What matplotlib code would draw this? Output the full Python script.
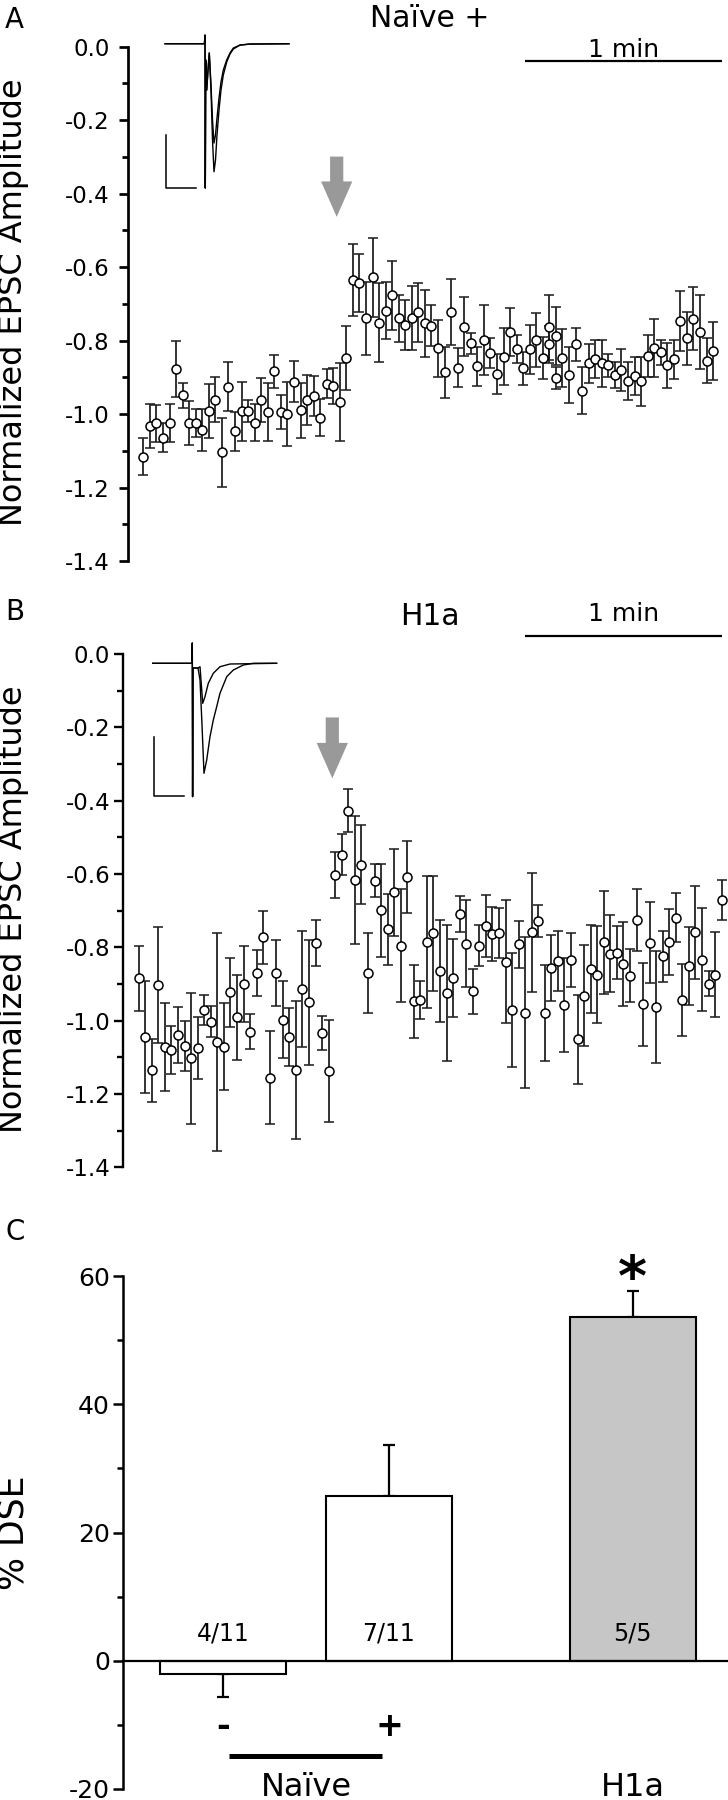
import numpy as np
import matplotlib
matplotlib.use("Agg")
import matplotlib.pyplot as plt

plt.rcParams['font.family'] = ['DejaVu Sans']
plt.rcParams['axes.unicode_minus'] = False

# ---------------- data ----------------
sample_interval_s = 2.0

# Panel A (Naive +): sample index (two samples appear twice), mean, SEM
a_sample = np.r_[np.arange(62), 62, 62, 63, 63, np.arange(64, 88)]
a_val = [-1.116, -1.032, -1.025, -1.064, -1.024, -0.878, -0.949, -1.024, -1.024, -1.043,
         -0.991, -0.961, -1.103, -0.925, -1.047, -0.992, -0.992, -1.023, -0.962, -0.994,
         -0.883, -0.994, -1.000, -0.912, -0.989, -0.961, -0.950, -1.009, -0.917, -0.923,
         -0.967, -0.846, -0.635, -0.644, -0.739, -0.628, -0.751, -0.718, -0.677, -0.739,
         -0.757, -0.737, -0.723, -0.753, -0.759, -0.821, -0.886, -0.723, -0.873, -0.762,
         -0.807, -0.869, -0.798, -0.834, -0.891, -0.843, -0.777, -0.823, -0.875, -0.823,
         -0.798, -0.848, -0.764, -0.810, -0.786, -0.902, -0.848, -0.893, -0.810, -0.936,
         -0.862, -0.850, -0.862, -0.867, -0.893, -0.880, -0.909, -0.896, -0.911, -0.842,
         -0.820, -0.832, -0.867, -0.850, -0.746, -0.794, -0.740, -0.776, -0.854, -0.828]
a_err = [0.050, 0.060, 0.050, 0.039, 0.052, 0.076, 0.033, 0.061, 0.039, 0.057,
         0.073, 0.061, 0.094, 0.067, 0.053, 0.080, 0.030, 0.050, 0.060, 0.080,
         0.045, 0.045, 0.087, 0.056, 0.075, 0.068, 0.055, 0.050, 0.040, 0.050,
         0.105, 0.087, 0.097, 0.079, 0.100, 0.107, 0.107, 0.078, 0.094, 0.064,
         0.068, 0.087, 0.080, 0.090, 0.056, 0.078, 0.070, 0.090, 0.054, 0.080,
         0.028, 0.053, 0.094, 0.040, 0.054, 0.077, 0.065, 0.039, 0.045, 0.067,
         0.074, 0.057, 0.088, 0.050, 0.079, 0.030, 0.079, 0.077, 0.045, 0.064,
         0.054, 0.052, 0.064, 0.031, 0.035, 0.058, 0.052, 0.052, 0.066, 0.057,
         0.079, 0.034, 0.062, 0.053, 0.081, 0.073, 0.085, 0.100, 0.061, 0.078]

# Panel B (H1a)
b_sample = np.arange(90)
b_val = [-0.884, -1.045, -1.135, -0.903, -1.071, -1.080, -1.038, -1.070, -1.103, -1.074,
         -0.972, -1.003, -1.057, -1.071, -0.923, -0.991, -0.900, -1.030, -0.869, -0.773,
         -1.155, -0.869, -0.997, -1.044, -1.135, -0.914, -0.950, -0.788, -1.033, -1.136,
         -0.603, -0.548, -0.427, -0.617, -0.575, -0.870, -0.619, -0.699, -0.751, -0.650,
         -0.795, -0.608, -0.947, -0.943, -0.786, -0.762, -0.864, -0.925, -0.883, -0.710,
         -0.790, -0.920, -0.795, -0.742, -0.763, -0.762, -0.839, -0.970, -0.792, -0.978,
         -0.759, -0.728, -0.979, -0.855, -0.838, -0.958, -0.834, -1.051, -0.932, -0.858,
         -0.874, -0.786, -0.817, -0.814, -0.846, -0.877, -0.726, -0.955, -0.787, -0.963,
         -0.824, -0.785, -0.719, -0.944, -0.851, -0.759, -0.834, -0.899, -0.874, -0.670]
b_err = [0.089, 0.153, 0.086, 0.159, 0.120, 0.066, 0.076, 0.068, 0.178, 0.084,
         0.041, 0.042, 0.297, 0.119, 0.094, 0.117, 0.104, 0.047, 0.063, 0.072,
         0.128, 0.090, 0.104, 0.080, 0.188, 0.159, 0.170, 0.063, 0.046, 0.139,
         0.062, 0.056, 0.058, 0.174, 0.108, 0.108, 0.045, 0.126, 0.097, 0.118,
         0.155, 0.098, 0.099, 0.052, 0.180, 0.157, 0.139, 0.185, 0.106, 0.049,
         0.119, 0.061, 0.055, 0.085, 0.074, 0.068, 0.168, 0.156, 0.065, 0.206,
         0.162, 0.044, 0.130, 0.090, 0.082, 0.128, 0.074, 0.121, 0.138, 0.120,
         0.132, 0.140, 0.106, 0.073, 0.115, 0.073, 0.084, 0.113, 0.110, 0.153,
         0.070, 0.089, 0.066, 0.098, 0.106, 0.126, 0.140, 0.034, 0.117, 0.054]

trace_y_ticks = [0.0, -0.2, -0.4, -0.6, -0.8, -1.0, -1.2, -1.4]
trace_y_ticklabels = ['0.0', '-0.2', '-0.4', '-0.6', '-0.8', '-1.0', '-1.2', '-1.4']

# Example EPSC traces (ms, pA-like units)
ins_a_t = [-13.3, -0.2, 0, 0.1, 0.27, 0.57, 1.0, 1.43, 2.0, 2.5, 3.0, 3.5, 4.0, 4.67,
           5.33, 6.1, 7.23, 8.33, 9.43, 11.67, 15, 28]
ins_a_pre = [0, 0, 16.5, -273.8, -30.9, -87.9, -49.9, -17.6, -87.9, -182.7, -242.9, -220.7,
             -173.2, -125.8, -87.9, -59.4, -34.7, -19.5, -10.1, -2.5, -0.6, 0]
ins_a_post = [0, 0, 16.5, -273.8, -30.9, -87.9, -49.9, -17.6, -78.4, -144.8, -188.4, -173.2,
              -141.0, -103.0, -72.7, -49.9, -30.9, -17.6, -8.2, -2.5, -0.6, 0]
ins_b_t_pre = [-13.2, -0.1, 0, 0.1, 0.23, 1.23, 1.9, 2.57, 3.23, 3.9, 4.8, 5.9, 7.0, 8.13,
               9.23, 11.47, 13.67, 17, 20.3, 28.1]
ins_b_pre = [0, 0, 34.4, -226, -8, -8, -8, -28, -104, -186.4, -163.9, -124.4, -96.1, -73.6,
             -50.8, -22.7, -11.4, -2.9, 0, 0]
ins_b_t_post = [-13.2, -0.1, 0, 0.1, 0.23, 1.23, 1.9, 2.57, 3.47, 4.23, 5.33, 7.0, 9.23,
                12.57, 28.1]
ins_b_post = [0, 0, 34.4, -226, -8, -8, -8, -5.8, -67.8, -56.6, -33.9, -16.9, -5.8, -1.2, 0]

# Panel C
groups = ['Naïve -', 'Naïve +', 'H1a']
dse_mean = [-2.0, 25.7, 53.6]
dse_sem = [3.7, 7.9, 4.1]
dse_counts = ['4/11', '7/11', '5/5']
bar_colors = ['white', 'white', '#c6c6c6']
c_ticks = [-20, 0, 20, 40, 60]
c_ticklabels = ['-20', '0', '20', '40', '60']

# ---------------- layout helpers ----------------
W, H = 728, 1800
fig = plt.figure(figsize=(W / 100, H / 100), dpi=100)


def px_rect(x0, y0, x1, y1):
    return [x0 / W, 1 - y1 / H, (x1 - x0) / W, (y1 - y0) / H]


def ftext(x, y, s, **kw):
    return fig.text(x / W, 1 - y / H, s, **kw)


px_per_s = 6.55 / sample_interval_s


def style_trace_axis(ax, pad, spine_lw):
    for s in ['top', 'right', 'bottom']:
        ax.spines[s].set_visible(False)
    ax.spines['left'].set_linewidth(spine_lw)
    ax.set_xticks([])
    ax.set_ylim(-1.4, 0.0)
    ax.set_yticks(trace_y_ticks)
    ax.set_yticklabels(trace_y_ticklabels)
    ax.set_yticks(np.arange(-1.3, 0, 0.2), minor=True)
    ax.tick_params(axis='y', which='major', length=6.8, width=spine_lw,
                   labelsize=16.5, pad=pad, direction='out')
    ax.tick_params(axis='y', which='minor', length=4.3, width=spine_lw, direction='out')
    ax.patch.set_alpha(0)


def draw_points(ax, t, v, e):
    ax.errorbar(t, v, yerr=e, fmt='o', ms=6.5, mfc='white', mec='black', mew=1.1,
                ecolor='#1a1a1a', elinewidth=1.25, capsize=3.9, capthick=1.25,
                clip_on=False, zorder=3)


def draw_arrow(ax, t, y_top, y_tip):
    ax.annotate('', xy=(t, y_tip), xytext=(t, y_top),
                arrowprops=dict(arrowstyle='simple,head_length=25.5,head_width=22.5,tail_width=9.5',
                                mutation_scale=1, color='#999999', shrinkA=0, shrinkB=0, lw=0),
                annotation_clip=False)


def draw_scalebar(ax, t0, y_line, y_text):
    ax.plot([t0, t0 + 60], [y_line, y_line], color='black', lw=1.6, clip_on=False,
            solid_capstyle='butt')
    ax.text(t0 + 30, y_text, '1 min', ha='center', va='baseline', fontsize=18)


# ---------------- Panel A ----------------
a_left, a_first = 127.7, 143.3
ax_a = fig.add_axes(px_rect(a_left, 46.7, 728, 561.2))
style_trace_axis(ax_a, pad=6.0, spine_lw=1.95)
ax_a.set_xlim(-(a_first - a_left) / px_per_s, (728 - a_first) / px_per_s)
draw_points(ax_a, a_sample * sample_interval_s, a_val, a_err)
draw_arrow(ax_a, (336.7 - a_first) / px_per_s, -0.299, -0.463)
draw_scalebar(ax_a, (525 - a_first) / px_per_s, -0.038, -0.029)
ftext(430, 26.7, 'Naïve +', ha='center', va='baseline', fontsize=21.5)
ftext(13.5, 302.4, 'Normalized EPSC Amplitude', rotation=90, ha='center', va='center',
      fontsize=23)
ftext(13.8, 19.5, 'A', ha='center', va='center', fontsize=20)

ins_a = fig.add_axes(px_rect(163, 33.2, 292, 191.3))
ins_a.set_xlim(-14, 29)
ins_a.set_ylim(-280, 20)
ins_a.axis('off')
ins_a.plot(ins_a_t, ins_a_pre, color='black', lw=1.0)
ins_a.plot(ins_a_t, ins_a_post, color='black', lw=1.0)
ins_a.plot([-13, -13, -3], [-173.2, -273.2, -273.2], color='black', lw=1.1)

# ---------------- Panel B ----------------
b_left, b_first = 123.0, 138.7
ax_b = fig.add_axes(px_rect(b_left, 654, 728, 1167.4))
style_trace_axis(ax_b, pad=2.4, spine_lw=1.7)
ax_b.set_xlim(-(b_first - b_left) / px_per_s, (728 - b_first) / px_per_s)
draw_points(ax_b, b_sample * sample_interval_s, b_val, b_err)
draw_arrow(ax_b, (332.3 - b_first) / px_per_s, -0.173, -0.339)
draw_scalebar(ax_b, (525 - b_first) / px_per_s, 0.049, 0.09)
ftext(430, 625, 'H1a', ha='center', va='baseline', fontsize=21.5)
ftext(13.5, 909, 'Normalized EPSC Amplitude', rotation=90, ha='center', va='center',
      fontsize=23)
ftext(15, 612, 'B', ha='center', va='center', fontsize=20)

ins_b = fig.add_axes(px_rect(150.3, 639.7, 279.3, 804.9))
ins_b.set_xlim(-14, 29)
ins_b.set_ylim(-240, 40)
ins_b.axis('off')
ins_b.plot(ins_b_t_pre, ins_b_pre, color='black', lw=1.0)
ins_b.plot(ins_b_t_post, ins_b_post, color='black', lw=1.0)
ins_b.plot([-12.8, -12.8, -2.8], [-124.4, -224.4, -224.4], color='black', lw=1.1)

# ---------------- Panel C ----------------
bar_unit_px = 126.0
c_left = 123.3
first_center = 223.0
positions = [0.0, 1.317, 3.25]
ax_c = fig.add_axes(px_rect(c_left, 1276, 728, 1789))
ax_c.set_xlim(-(first_center - c_left) / bar_unit_px, (728 - first_center) / bar_unit_px)
ax_c.set_ylim(-20, 60)
for s in ['top', 'right', 'bottom']:
    ax_c.spines[s].set_visible(False)
ax_c.spines['left'].set_linewidth(1.8)
ax_c.set_xticks([])
ax_c.set_yticks(c_ticks)
ax_c.set_yticklabels(c_ticklabels)
ax_c.set_yticks([-10, 10, 30, 50], minor=True)
ax_c.tick_params(axis='y', which='major', length=7.2, width=1.8, labelsize=18, pad=2.4)
ax_c.tick_params(axis='y', which='minor', length=4.3, width=1.8)
ax_c.patch.set_alpha(0)

lower = [s if m < 0 else 0 for m, s in zip(dse_mean, dse_sem)]
upper = [s if m >= 0 else 0 for m, s in zip(dse_mean, dse_sem)]
ax_c.errorbar(positions, dse_mean, yerr=[lower, upper], fmt='none', ecolor='black',
              elinewidth=1.6, capsize=4.3, capthick=1.6, zorder=1)
ax_c.bar(positions, dse_mean, width=1.0, color=bar_colors, edgecolor='black',
         linewidth=1.5, zorder=2)
ax_c.axhline(0, color='black', lw=1.6, zorder=3, clip_on=False)

for p, c in zip(positions, dse_counts):
    ax_c.text(p, 4.3, c, ha='center', va='center', fontsize=17, zorder=4)

ax_c.text(positions[2], 57.05, '*', ha='center', va='baseline', fontsize=40,
          fontweight='bold')
ax_c.text(positions[0], -10.3, '-', ha='center', va='center', fontsize=24, fontweight='bold',
          clip_on=False)
ax_c.text(positions[1], -10.3, '+', ha='center', va='center', fontsize=24, fontweight='bold',
          clip_on=False)
ax_c.plot([positions[0] + 0.048, positions[1] - 0.055], [-14.9, -14.9], color='black',
          lw=3.6, solid_capstyle='butt', clip_on=False)
ax_c.text((positions[0] + positions[1]) / 2, -21.1, 'Naïve', ha='center', va='baseline',
          fontsize=23, clip_on=False)
ax_c.text(positions[2], -21.1, 'H1a', ha='center', va='baseline', fontsize=23,
          clip_on=False)

ftext(14, 1533, '% DSE', rotation=90, ha='center', va='center', fontsize=25)
ftext(15, 1232, 'C', ha='center', va='center', fontsize=20)

fig.savefig('out.png', dpi=100)
